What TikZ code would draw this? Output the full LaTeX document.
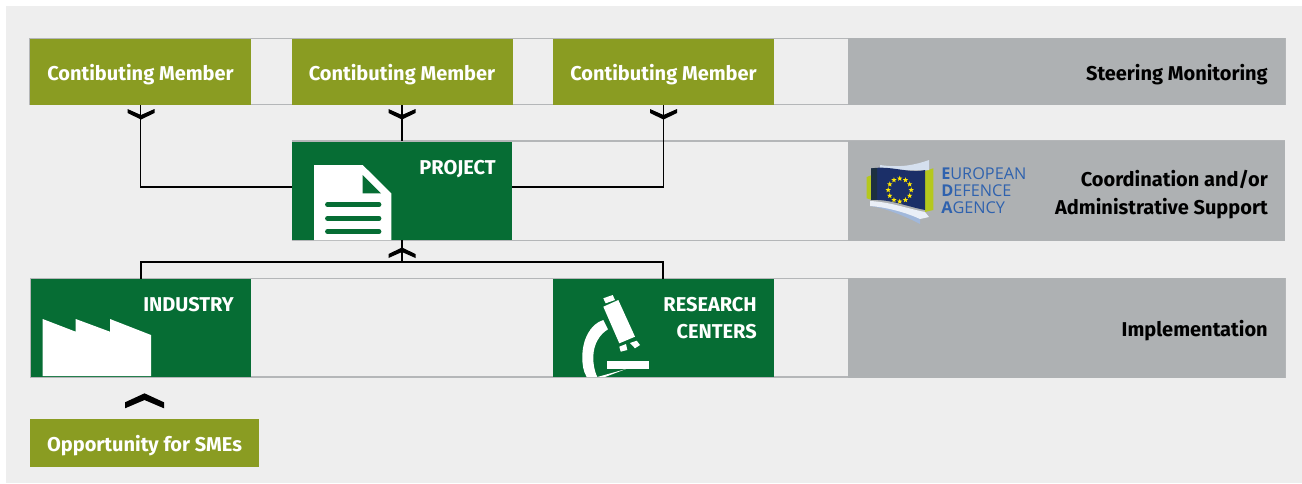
\documentclass[tikz,border=0pt]{standalone}
\usepackage{fontspec}
\setmainfont{Fira Sans}
\newfontfamily\logofont{Open Sans}
\usetikzlibrary{shapes.geometric}
\definecolor{pagebg}{HTML}{EEEEEE}
\definecolor{olive}{HTML}{8A9C22}
\definecolor{forest}{HTML}{066D34}
\definecolor{panel}{HTML}{AEB1B3}
\definecolor{edge}{HTML}{B4B6B8}
\definecolor{flagblue}{HTML}{1B2F68}
\definecolor{flagdark}{HTML}{1D3040}
\definecolor{logoblue}{HTML}{2F62AE}
\definecolor{lime}{HTML}{B5C81E}
\tikzset{
    strip/.style={draw=edge, line width=1.1pt},
    panelbox/.style={fill=panel},
    oliveboxs/.style={fill=olive, text=white, font=\fontsize{15}{18}\selectfont\bfseries, text height=12pt, text depth=0pt, minimum width=165.75pt, minimum height=49.5pt, inner sep=0pt},
    greenbox/.style={fill=forest, minimum width=165pt, minimum height=73.5pt, inner sep=0pt},
    boxtext/.style={text=white, font=\fontsize{15}{18}\selectfont\bfseries, anchor=base east, inner sep=0pt},
    paneltext/.style={text=black, font=\fontsize{15}{18}\selectfont\bfseries, anchor=base east, inner sep=0pt},
    logotext/.style={anchor=west, inner sep=0pt, text=logoblue, font=\logofont\fontsize{12.2}{14}\selectfont},
    link/.style={draw=black, line width=.9pt},
    chevron/.style={fill=black},
    icon/.style={fill=white},
}
\begin{document}
\begin{tikzpicture}[x=.75pt, y=-.75pt]
    \useasboundingbox (0,0) rectangle (1302,483);
    \fill[pagebg] (6,6) rectangle (1302,483);

    %%rows
    \draw[strip] (30,38.5) rectangle (1285,104.5);
    \draw[strip] (291.5,141) -- (1285,141) (291.5,240.5) -- (1285,240.5);
    \draw[strip] (30.5,278.5) rectangle (1285,377);
    \fill[panelbox] (848,38) rectangle (1285,105);
    \fill[panelbox] (848,141) rectangle (1285,241);
    \fill[panelbox] (848,278) rectangle (1285,378);

    %%members
    \node[oliveboxs] (member1) at (140.5,72){Contibuting Member};
    \node[oliveboxs] (member2) at (402,72){Contibuting Member};
    \node[oliveboxs] (member3) at (663.5,72){Contibuting Member};

    %%green boxes
    \node[greenbox] (project) at (402,190.5){};
    \node[greenbox] (industry) at (141,328){};
    \node[greenbox, minimum width=165.75pt] (research) at (663.5,328){};
    \node[oliveboxs, minimum width=171.75pt, minimum height=36pt] (smes) at (144.5,443){Opportunity for SMEs};

    %%connectors
    \coordinate (projectleft) at (292,187);
    \coordinate (projectright) at (512,187);
    \coordinate (busleft) at (141,262);
    \coordinate (busright) at (663,262);
    \draw[link] (member1.south) |- (projectleft);
    \draw[link] (member2.south) -- (project.north);
    \draw[link] (member3.south) |- (projectright);
    \draw[link] (project.south) -- (402,262);
    \draw[link] (industry.north -| busleft) -- (busleft) -- (busright) -- (research.north -| busright);

    %%chevrons
    \fill[chevron] (127.5,109) -- (141,115) -- (154.5,109) -- (154.5,113) -- (141,119.5) -- (127.5,113) -- cycle;
    \fill[chevron] (388.5,109) -- (402,115) -- (415.5,109) -- (415.5,113) -- (402,119.5) -- (388.5,113) -- cycle;
    \fill[chevron] (650,109) -- (663.5,115) -- (677,109) -- (677,113) -- (663.5,119.5) -- (650,113) -- cycle;
    \fill[chevron] (388.5,258) -- (402,252) -- (415.5,258) -- (415.5,254) -- (402,247.5) -- (388.5,254) -- cycle;
    \fill[chevron] (125,408.3) -- (144.5,400) -- (164,408.3) -- (164,402.3) -- (144.5,393.3) -- (125,402.3) -- cycle;

    %%labels
    \node[boxtext] (projectlabel) at (496,174){PROJECT};
    \node[boxtext] (industrylabel) at (234,311){INDUSTRY};
    \node[boxtext] (researchlabel) at (757,311){RESEARCH};
    \node[boxtext] (centerslabel) at (757,338){CENTERS};
    \node[paneltext] (steering) at (1268,80){Steering Monitoring};
    \node[paneltext] (coordination) at (1268,186){Coordination and/or};
    \node[paneltext] (administrative) at (1268,214){Administrative Support};
    \node[paneltext] (implementation) at (1268,336){Implementation};

    %%document icon
    \fill[icon] (314,240) -- (314,165) -- (362.7,165) -- (391.3,193.3) -- (391.3,240) -- cycle;
    \fill[forest] (362.7,175) -- (362.7,193.3) -- (381,193.3) -- cycle;
    \foreach \liney in {204.7,218.3,231.7}
        \draw[forest, line width=3.6pt, line cap=round] (327.5,\liney) -- (379,\liney);

    %%factory icon
    \fill[icon] (42.7,376) -- (42.7,319) -- (75.7,331.7) -- (75.7,319) -- (110,331.7) -- (110,319) -- (151,335) -- (151,376) -- cycle;

    %%microscope icon
    \fill[icon] (603.3,306.7) -- (618.3,300) -- (635,336.7) -- (619.3,343.3) -- cycle;
    \fill[icon] (603.3,298.3) -- (612.7,295) -- (615,300) -- (605.7,303.3) -- cycle;
    \fill[icon] (619.3,346.7) -- (626,344) -- (627.3,350) -- (620.7,351.7) -- cycle;
    \fill[icon] (630,343) -- (636.7,340.7) -- (640,345) -- (635,348.3) -- cycle;
    \fill[icon] (607.3,361) rectangle (649,369);
    \fill[icon] (603.3,320) .. controls (590,324) and (582.3,340) .. (582.3,357) .. controls (582.3,364) and (583,371) .. (586.7,377) -- (597.3,377) .. controls (594,370) and (593.3,364) .. (593.3,357) .. controls (593.3,344) and (600,334) .. (608,329.3) -- cycle;
    \fill[icon] (597.3,377) -- (626,369) -- (605,377) -- cycle;

    %%logo
    \fill[lime] (866.7,177) -- (872,175) -- (872,200) -- (866.7,198.3) -- cycle;
    \fill[lime] (925,171) -- (933.3,168.3) -- (933.3,210) -- (925,212) -- cycle;
    \fill[white!80!logoblue] (880,165) .. controls (900,168) and (915,165) .. (929,160) -- (929,170) -- (880,170) -- cycle;
    \fill[white!55!logoblue] (870,206) .. controls (885,208) and (905,216) .. (920,224) -- (920,216) -- (870,203) -- cycle;
    \fill[white!90!logoblue] (870,201) .. controls (890,202) and (905,208) .. (925,212) -- (929,217) -- (920,219) .. controls (905,212) and (885,207) .. (870,206) -- cycle;
    \fill[flagblue] (871,168.5) .. controls (890,165) and (910,174) .. (925,170) -- (925,210) .. controls (905,206) and (890,199) .. (871,200) -- cycle;
    \fill[flagdark] (871,168.5) .. controls (873,168) and (875,168) .. (877,168) -- (877,199.7) .. controls (875,199.7) and (873,199.8) .. (871,200) -- cycle;
    \foreach \staria in {0,30,...,330}
        \node[star, star points=5, star point ratio=2.4, fill=yellow!90!orange, inner sep=0pt, minimum size=4.2pt] (star\staria) at ([shift={(\staria:11.5)}]899.7,190){};
    \node[logotext] (logo1) at (941,173.5){\textbf{E}UROPEAN};
    \node[logotext] (logo2) at (941,190.5){\textbf{D}EFENCE};
    \node[logotext] (logo3) at (941,207.5){\textbf{A}GENCY};
\end{tikzpicture}
\end{document}
